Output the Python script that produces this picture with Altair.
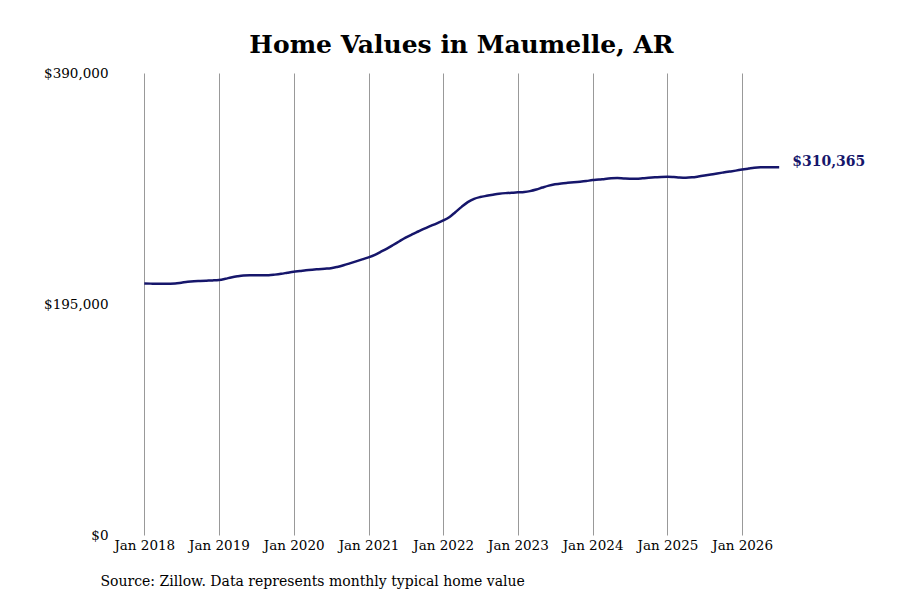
import altair as alt
import pandas as pd

# Monthly typical home value, Jan 2018 - Jul 2026
values_2018 = [212400, 212200, 212000, 212000, 212100, 212300, 213000, 213800, 214300, 214500, 214700, 214900]
values_2019 = [215300, 216300, 217400, 218400, 219100, 219300, 219300, 219200, 219300, 219800, 220500, 221400]
values_2020 = [222300, 222900, 223500, 224000, 224400, 224800, 225200, 226300, 227700, 229300, 231000, 232700]
values_2021 = [234400, 236500, 239000, 241800, 244800, 248000, 251000, 253700, 256200, 258600, 260900, 263100]
values_2022 = [265500, 268500, 272500, 277000, 281000, 283800, 285300, 286300, 287200, 288000, 288600, 289000]
values_2023 = [289300, 289600, 290300, 291600, 293300, 294900, 296000, 296800, 297300, 297700, 298200, 298800]
values_2024 = [299600, 300000, 300600, 301100, 301300, 301000, 300800, 300800, 301100, 301500, 301900, 302300]
values_2025 = [302500, 302200, 301800, 301600, 301900, 302600, 303400, 304300, 305200, 306000, 306800, 307600]
values_2026 = [308500, 309300, 310000, 310400, 310500, 310400, 310365]

values = (values_2018 + values_2019 + values_2020 + values_2021 + values_2022
          + values_2023 + values_2024 + values_2025 + values_2026)
dates = pd.date_range("2018-01-01", periods=len(values), freq="MS")

df = pd.DataFrame({"date": dates, "value": values})
last = df.tail(1).copy()
last["label"] = last["value"].map("${:,.0f}".format)

year_ticks = [alt.DateTime(year=y, month=1, date=1) for y in range(2018, 2027)]
y_ticks = [0, 195000, 390000]

LINE_COLOR = "#16166b"
FONT = "DejaVu Serif"

x_enc = alt.X(
    "date:T",
    scale=alt.Scale(domain=[alt.DateTime(year=2017, month=8, date=1),
                            alt.DateTime(year=2026, month=10, date=1)]),
    axis=alt.Axis(
        values=year_ticks,
        format="%b %Y",
        grid=True,
        gridColor="#999999",
        gridWidth=1,
        domain=False,
        ticks=False,
        labelPadding=3,
        labelFontSize=13.5,
        labelColor="#000000",
        title="Source: Zillow. Data represents monthly typical home value",
        titleAnchor="start",
        titleX=-13,
        titleY=50,
        titleBaseline="alphabetic",
        titleFontWeight="normal",
        titleFontSize=14,
        titleColor="#000000",
    ),
)
y_enc = alt.Y(
    "value:Q",
    scale=alt.Scale(domain=[0, 390000], nice=False),
    axis=alt.Axis(
        values=y_ticks,
        format="$,d",
        grid=False,
        domain=False,
        ticks=False,
        labelPadding=5,
        labelFontSize=13.5,
        labelColor="#000000",
        title=None,
    ),
)

line = alt.Chart(df).mark_line(
    color=LINE_COLOR, strokeWidth=2.5, interpolate="monotone"
).encode(x=x_enc, y=y_enc)

end_label = alt.Chart(last).mark_text(
    align="left", dx=13, dy=-5, fontSize=14, fontWeight="bold",
    color=LINE_COLOR, font=FONT,
).encode(x="date:T", y="value:Q", text="label:N")

chart = (
    alt.layer(line, end_label)
    .properties(
        width=685,
        height=462,
        padding={"left": 35, "top": 25, "right": 5, "bottom": 5},
        title=alt.TitleParams(
            "Home Values in Maumelle, AR",
            fontSize=25,
            fontWeight="bold",
            font=FONT,
            color="#000000",
            offset=8,
            dx=6,
        ),
        background="white",
    )
    .configure_view(strokeWidth=0)
    .configure_axis(labelFont=FONT, titleFont=FONT)
)

chart.save("out.html", embed_options={"renderer": "svg", "actions": False})
